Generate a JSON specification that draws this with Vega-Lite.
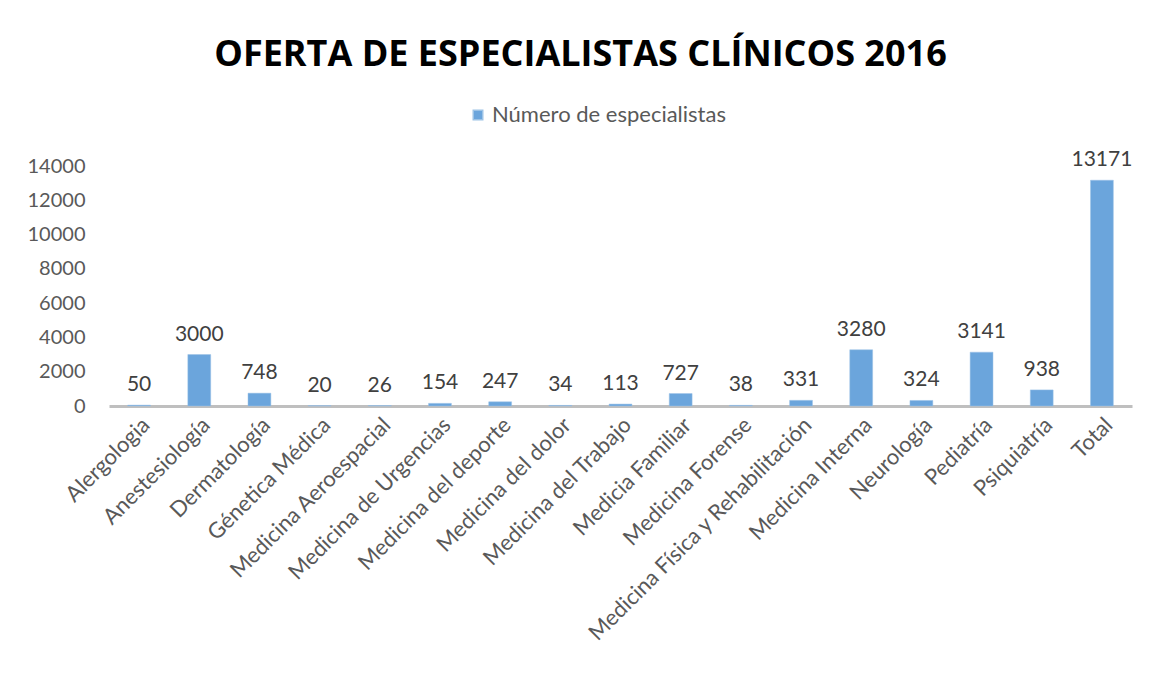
{
  "$schema": "https://vega.github.io/schema/vega-lite/v6.json",
  "width": 1023,
  "height": 240,
  "autosize": {"type": "none"},
  "padding": {"left": 109, "top": 166, "right": 28, "bottom": 269},
  "background": "white",
  "title": {
    "text": "OFERTA DE ESPECIALISTAS CLÍNICOS 2016",
    "font": "Open Sans",
    "fontSize": 36,
    "fontWeight": "bold",
    "color": "#000000",
    "anchor": "middle",
    "dx": -40,
    "offset": 30
  },
  "data": {
    "values": [
      {"especialidad": "Alergologia", "n": 50, "serie": "Número de especialistas"},
      {"especialidad": "Anestesiología", "n": 3000, "serie": "Número de especialistas"},
      {"especialidad": "Dermatología", "n": 748, "serie": "Número de especialistas"},
      {"especialidad": "Génetica Médica", "n": 20, "serie": "Número de especialistas"},
      {"especialidad": "Medicina Aeroespacial", "n": 26, "serie": "Número de especialistas"},
      {"especialidad": "Medicina de Urgencias", "n": 154, "serie": "Número de especialistas"},
      {"especialidad": "Medicina del deporte", "n": 247, "serie": "Número de especialistas"},
      {"especialidad": "Medicina del dolor", "n": 34, "serie": "Número de especialistas"},
      {"especialidad": "Medicina del Trabajo", "n": 113, "serie": "Número de especialistas"},
      {"especialidad": "Medicia Familiar", "n": 727, "serie": "Número de especialistas"},
      {"especialidad": "Medicina Forense", "n": 38, "serie": "Número de especialistas"},
      {"especialidad": "Medicina Física y Rehabilitación", "n": 331, "serie": "Número de especialistas"},
      {"especialidad": "Medicina Interna", "n": 3280, "serie": "Número de especialistas"},
      {"especialidad": "Neurología", "n": 324, "serie": "Número de especialistas"},
      {"especialidad": "Pediatría", "n": 3141, "serie": "Número de especialistas"},
      {"especialidad": "Psiquiatría", "n": 938, "serie": "Número de especialistas"},
      {"especialidad": "Total", "n": 13171, "serie": "Número de especialistas"}
    ]
  },
  "encoding": {
    "x": {
      "field": "especialidad",
      "type": "nominal",
      "sort": null,
      "title": null,
      "scale": {"paddingInner": 0.62, "paddingOuter": 0.31},
      "axis": {
        "labelAngle": -45,
        "labelFont": "Lato",
        "labelFontSize": 22,
        "labelColor": "#595959",
        "labelPadding": 8,
        "labelLimit": 500,
        "ticks": false,
        "domainColor": "#BFBFBF",
        "domainWidth": 3,
        "labelOverlap": false
      }
    },
    "y": {
      "field": "n",
      "type": "quantitative",
      "title": null,
      "scale": {"domain": [0, 14000]},
      "axis": {
        "values": [0, 2000, 4000, 6000, 8000, 10000, 12000, 14000],
        "format": "d",
        "labelFont": "Lato",
        "labelFontSize": 20,
        "labelColor": "#595959",
        "labelPadding": 24,
        "ticks": false,
        "domain": false,
        "grid": false
      }
    }
  },
  "layer": [
    {
      "mark": {"type": "bar", "stroke": "#9DC3E6", "strokeWidth": 0.5},
      "encoding": {
        "color": {
          "field": "serie",
          "type": "nominal",
          "scale": {"range": ["#6BA5DC"]},
          "legend": {
            "title": null,
            "orient": "none",
            "legendX": 358,
            "legendY": -62,
            "symbolType": "square",
            "symbolSize": 90,
            "labelOffset": 3,
            "labelFont": "Lato",
            "labelFontSize": 22,
            "labelColor": "#595959",
            "labelLimit": 400
          }
        }
      }
    },
    {
      "mark": {
        "type": "text",
        "baseline": "bottom",
        "dy": -10,
        "font": "Lato",
        "fontSize": 21,
        "color": "#404040"
      },
      "encoding": {
        "text": {"field": "n", "type": "quantitative", "format": "d"}
      }
    }
  ],
  "config": {
    "view": {"stroke": null}
  }
}
